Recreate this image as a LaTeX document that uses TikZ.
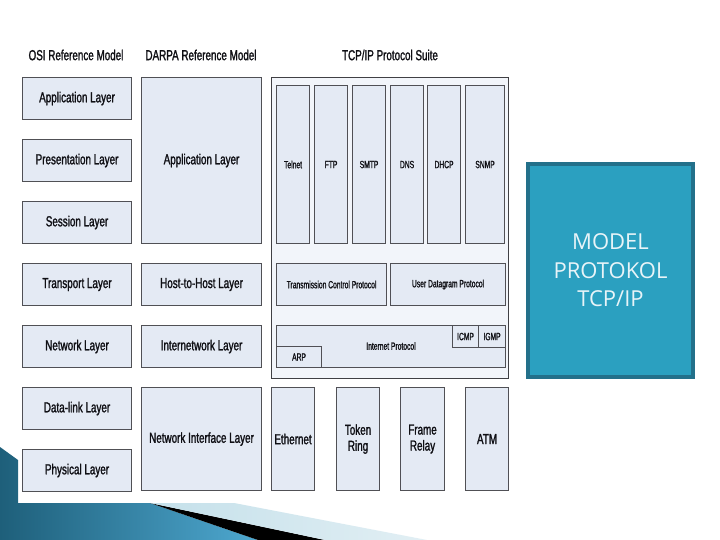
\documentclass[tikz,border=0pt]{standalone}
\usepackage{fontspec}
\setmainfont{Liberation Sans}
\newfontfamily\narrowfont[FakeStretch=0.68,FakeBold=1.4]{Liberation Sans}
\newfontfamily\tinyfont[FakeStretch=0.64,FakeBold=1.2]{Liberation Sans}
\newfontfamily\slidefont{Open Sans}
\definecolor{boxfill}{RGB}{228,234,244}
\definecolor{suitefill}{RGB}{242,245,250}
\definecolor{boxborder}{RGB}{80,80,85}
\definecolor{textdark}{RGB}{15,15,20}
\definecolor{slideblue}{RGB}{43,160,192}
\definecolor{slideborder}{RGB}{35,112,138}
\definecolor{slidetext}{RGB}{232,244,248}
\definecolor{decodark}{RGB}{30,95,122}
\definecolor{decolight}{RGB}{78,168,208}
\definecolor{decopale}{RGB}{196,224,234}
\definecolor{decopaler}{RGB}{226,239,244}
\tikzset{
  x=1pt, y=-1pt,
  layerbox/.style={draw=boxborder, line width=1.1pt, fill=boxfill, inner sep=0pt,
    anchor=north west, align=center, text=textdark,
    font=\narrowfont\fontsize{14.5}{16}\selectfont},
  protobox/.style={layerbox, font=\tinyfont\fontsize{10.5}{11}\selectfont},
  suitebox/.style={draw=boxborder!80!black, line width=1pt, fill=suitefill, inner sep=0pt, anchor=north west},
  hdr/.style={text=textdark, font=\narrowfont\fontsize{14.5}{16}\selectfont},
  lbl/.style={text=textdark, font=\tinyfont\fontsize{10.5}{11}\selectfont},
}
\begin{document}
\begin{tikzpicture}
\useasboundingbox (0,0) rectangle (720,540);
\fill[white] (0,0) rectangle (720,540);
% bottom-left decoration
\shade[left color=decodark, right color=decolight] (0,447) -- (18,460) -- (18,503) -- (150,503) -- (258,540) -- (0,540) -- cycle;
\fill[black] (150,503) -- (325,540) -- (258,540) -- cycle;
\shade[left color=decopale, right color=decopaler] (150,503) -- (234,503) -- (427,540) -- (325,540) -- cycle;
% headers
\node[hdr] (hosi) at (76,55) {OSI Reference Model};
\node[hdr] (hdarpa) at (201,55) {DARPA Reference Model};
\node[hdr] (htcp) at (390,55) {TCP/IP Protocol Suite};
% OSI column
\node[layerbox, minimum width=109, minimum height=42] (osi7) at (22,77) {Application Layer};
\node[layerbox, minimum width=109, minimum height=42] (osi6) at (22,139) {Presentation Layer};
\node[layerbox, minimum width=109, minimum height=42] (osi5) at (22,201) {Session Layer};
\node[layerbox, minimum width=109, minimum height=42] (osi4) at (22,263) {Transport Layer};
\node[layerbox, minimum width=109, minimum height=42] (osi3) at (22,325) {Network Layer};
\node[layerbox, minimum width=109, minimum height=42] (osi2) at (22,387) {Data-link Layer};
\node[layerbox, minimum width=109, minimum height=42] (osi1) at (22,449) {Physical Layer};
% DARPA column
\node[layerbox, minimum width=120, minimum height=166] (dapp) at (141,77) {Application Layer};
\node[layerbox, minimum width=120, minimum height=42] (dhost) at (141,263) {Host-to-Host Layer};
\node[layerbox, minimum width=120, minimum height=42] (dinet) at (141,325) {Internetwork Layer};
\node[layerbox, minimum width=120, minimum height=103] (dnet) at (141,387) {Network Interface Layer};
% TCP/IP suite
\node[suitebox, minimum width=237, minimum height=301] (suite) at (271,77) {};
\node[protobox, minimum width=33, minimum height=158] (telnet) at (276,85) {Telnet};
\node[protobox, minimum width=33, minimum height=158] (ftp) at (314,85) {FTP};
\node[protobox, minimum width=33, minimum height=158] (smtp) at (352,85) {SMTP};
\node[protobox, minimum width=33, minimum height=158] (dns) at (390,85) {DNS};
\node[protobox, minimum width=33, minimum height=158] (dhcp) at (427,85) {DHCP};
\node[protobox, minimum width=39, minimum height=158] (snmp) at (465,85) {SNMP};
\node[protobox, minimum width=110, minimum height=42] (tcp) at (276,263) {Transmission Control Protocol};
\node[protobox, minimum width=115, minimum height=42] (udp) at (390,263) {User Datagram Protocol};
\node[protobox, minimum width=229, minimum height=42] (ip) at (276,325) {};
\node[lbl] (iplbl) at (391,346) {Internet Protocol};
\node[protobox, minimum width=26, minimum height=22] (icmp) at (452,325) {ICMP};
\node[protobox, minimum width=27, minimum height=22] (igmp) at (478,325) {IGMP};
\node[protobox, minimum width=45, minimum height=21] (arp) at (276,346) {ARP};
% network interface protocols
\node[layerbox, minimum width=43, minimum height=103] (eth) at (271,387) {Ethernet};
\node[layerbox, minimum width=43, minimum height=103] (token) at (336,387) {Token\\Ring};
\node[layerbox, minimum width=44, minimum height=103] (frame) at (400,387) {Frame\\Relay};
\node[layerbox, minimum width=43, minimum height=103] (atm) at (465,387) {ATM};
% slide title box
\node[draw=slideborder, line width=3.5pt, fill=slideblue, minimum width=165, minimum height=213,
  text=slidetext, align=center, font=\slidefont\fontsize{22}{28.5}\selectfont] (title) at (610.5,270.5)
  {MODEL\\PROTOKOL\\TCP/IP};
\end{tikzpicture}
\end{document}
